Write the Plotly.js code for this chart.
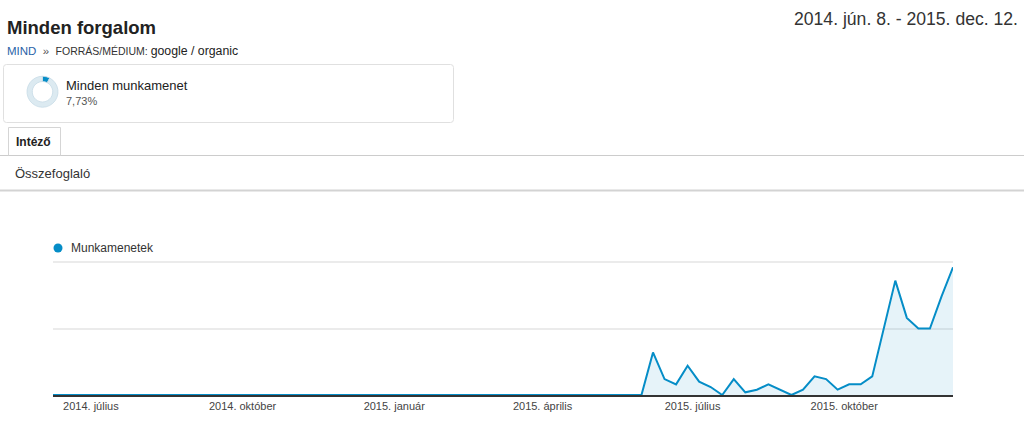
<!DOCTYPE html>
<html>
<head>
<meta charset="utf-8">
<script src="https://cdn.plot.ly/plotly-3.0.1.min.js"></script>
<style>
html,body{margin:0;padding:0;background:#fff;}
#chart{width:1024px;height:436px;}
</style>
</head>
<body>
<div id="chart"></div>
<script>
// ---- data ----
var weeks = [
 '2014-06-08','2014-06-15','2014-06-22','2014-06-29','2014-07-06','2014-07-13','2014-07-20','2014-07-27',
 '2014-08-03','2014-08-10','2014-08-17','2014-08-24','2014-08-31','2014-09-07','2014-09-14','2014-09-21',
 '2014-09-28','2014-10-05','2014-10-12','2014-10-19','2014-10-26','2014-11-02','2014-11-09','2014-11-16',
 '2014-11-23','2014-11-30','2014-12-07','2014-12-14','2014-12-21','2014-12-28','2015-01-04','2015-01-11',
 '2015-01-18','2015-01-25','2015-02-01','2015-02-08','2015-02-15','2015-02-22','2015-03-01','2015-03-08',
 '2015-03-15','2015-03-22','2015-03-29','2015-04-05','2015-04-12','2015-04-19','2015-04-26','2015-05-03',
 '2015-05-10','2015-05-17','2015-05-24','2015-05-31','2015-06-07','2015-06-14','2015-06-21','2015-06-28',
 '2015-07-05','2015-07-12','2015-07-19','2015-07-26','2015-08-02','2015-08-09','2015-08-16','2015-08-23',
 '2015-08-30','2015-09-06','2015-09-13','2015-09-20','2015-09-27','2015-10-04','2015-10-11','2015-10-18',
 '2015-10-25','2015-11-01','2015-11-08','2015-11-15','2015-11-22','2015-11-29','2015-12-06'
];
var sessions = [
 0,0,0,0,0,0,0,0,
 0,0,0,0,0,0,0,0,
 0,0,0,0,0,0,0,0,
 0,0,0,0,0,0,0,0,
 0,0,0,0,0,0,0,0,
 0,0,0,0,0,0,0,0,
 0,0,0,0,16,6,4,11,
 5,3,0,6,1,2,4,2,
 0,2,7,6,2,4,4,7,
 25,43,29,25,25,37,48
];
var tickDates = ['2014-07-01','2014-10-01','2015-01-01','2015-04-01','2015-07-01','2015-10-01'];
var tickLabels = ['2014. július','2014. október','2015. január','2015. április','2015. július','2015. október'];
var yGrid = [0, 25, 50];
var segmentLabels = ['Minden munkamenet', 'Egyéb'];
var segmentShare = [7.73, 92.27];

// ---- layout helpers (pixel -> paper) ----
var W = 1024, H = 436;
function px(x){ return x / W; }
function py(y){ return 1 - y / H; }
var FONT = 'Liberation Sans, Arial, sans-serif';
var BLUE = '#058dc7';

function roundRect(x0, y0, x1, y1, r){
  return 'M' + px(x0 + r) + ',' + py(y0) +
    ' L' + px(x1 - r) + ',' + py(y0) +
    ' Q' + px(x1) + ',' + py(y0) + ' ' + px(x1) + ',' + py(y0 + r) +
    ' L' + px(x1) + ',' + py(y1 - r) +
    ' Q' + px(x1) + ',' + py(y1) + ' ' + px(x1 - r) + ',' + py(y1) +
    ' L' + px(x0 + r) + ',' + py(y1) +
    ' Q' + px(x0) + ',' + py(y1) + ' ' + px(x0) + ',' + py(y1 - r) +
    ' L' + px(x0) + ',' + py(y0 + r) +
    ' Q' + px(x0) + ',' + py(y0) + ' ' + px(x0 + r) + ',' + py(y0) + ' Z';
}

var traces = [
  {
    type: 'scatter',
    mode: 'lines',
    x: weeks,
    y: sessions,
    name: 'Munkamenetek',
    line: {color: BLUE, width: 2},
    fill: 'tozeroy',
    fillcolor: 'rgba(5,141,199,0.10)',
    xaxis: 'x', yaxis: 'y',
    hoverinfo: 'x+y'
  },
  {
    type: 'pie',
    labels: segmentLabels,
    values: segmentShare,
    hole: 0.66,
    sort: false,
    direction: 'clockwise',
    rotation: 0,
    textinfo: 'none',
    hoverinfo: 'none',
    marker: {colors: [BLUE, '#dceaf1'], line: {width: 0.8, color: '#c6dbe6'}},
    domain: {x: [px(27), px(58)], y: [py(107.5), py(76)]},
    showlegend: false
  }
];

// y axis: 0 at pixel 395, 25 per 66.5 px; small headroom so the 50 gridline is drawn
var Y0PX = 395, PXPER = 66.5 / 25, YTOP = 50.6;

var layout = {
  width: W, height: H,
  margin: {l: 0, r: 0, t: 0, b: 0, pad: 0},
  paper_bgcolor: '#ffffff',
  plot_bgcolor: 'rgba(0,0,0,0)',
  showlegend: false,
  font: {family: FONT, color: '#333'},
  xaxis: {
    type: 'date',
    domain: [px(53), px(953)],
    range: [weeks[0], weeks[weeks.length - 1]],
    tickmode: 'array',
    tickvals: tickDates,
    ticktext: tickLabels,
    ticks: '',
    showgrid: false,
    zeroline: false,
    showline: true,
    linecolor: '#333333',
    linewidth: 1.5,
    layer: 'below traces',
    tickfont: {family: FONT, size: 11, color: '#444'},
    fixedrange: true
  },
  yaxis: {
    domain: [(H - Y0PX) / H, (H - (Y0PX - YTOP * PXPER)) / H],
    range: [0, YTOP],
    tickmode: 'array',
    tickvals: yGrid,
    showticklabels: false,
    ticks: '',
    showgrid: true,
    gridcolor: '#ebebeb',
    gridwidth: 2,
    zeroline: false,
    showline: false,
    layer: 'below traces',
    fixedrange: true
  },
  shapes: [
    {type: 'path', xref: 'paper', yref: 'paper', path: roundRect(3.5, 64.5, 453.5, 122.5, 3),
     line: {color: '#e0e0e0', width: 1}, fillcolor: 'rgba(0,0,0,0)'},
    {type: 'line', xref: 'paper', yref: 'paper', x0: 0, x1: 1, y0: py(155.5), y1: py(155.5),
     line: {color: '#cccccc', width: 1}},
    {type: 'path', xref: 'paper', yref: 'paper',
     path: 'M' + px(8.5) + ',' + py(155.5) + ' L' + px(8.5) + ',' + py(127.5) + ' L' + px(60.5) + ',' + py(127.5) + ' L' + px(60.5) + ',' + py(155.5),
     line: {color: '#d5d5d5', width: 1}, fillcolor: 'rgba(0,0,0,0)'},
    {type: 'line', xref: 'paper', yref: 'paper', x0: 0, x1: 1, y0: py(190.5), y1: py(190.5),
     line: {color: '#d3d3d3', width: 2}},
    {type: 'circle', xref: 'paper', yref: 'paper', x0: px(53.5), x1: px(62.5), y0: py(252.5), y1: py(243.5),
     fillcolor: BLUE, line: {width: 0}}
  ],
  annotations: [
    {xref: 'paper', yref: 'paper', x: px(5), y: py(27), xanchor: 'left', yanchor: 'middle', showarrow: false,
     text: '<b>Minden forgalom</b>', font: {family: FONT, size: 18.5, color: '#222'}},
    {xref: 'paper', yref: 'paper', x: px(5), y: py(51), xanchor: 'left', yanchor: 'middle', showarrow: false,
     text: '<span style="color:#2a63a8">MIND</span>  <span style="color:#555">»</span>  <span style="font-size:10.5px">FORRÁS/MÉDIUM: </span><span style="font-size:12.3px;color:#222">google / organic</span>',
     font: {family: FONT, size: 11.5, color: '#333'}},
    {xref: 'paper', yref: 'paper', x: px(1020), y: py(19), xanchor: 'right', yanchor: 'middle', showarrow: false,
     text: '2014. jún. 8. - 2015. dec. 12.', font: {family: FONT, size: 17.6, color: '#333'}},
    {xref: 'paper', yref: 'paper', x: px(64), y: py(85), xanchor: 'left', yanchor: 'middle', showarrow: false,
     text: 'Minden munkamenet', font: {family: FONT, size: 13, color: '#222'}},
    {xref: 'paper', yref: 'paper', x: px(64), y: py(101), xanchor: 'left', yanchor: 'middle', showarrow: false,
     text: '7,73%', font: {family: FONT, size: 11, color: '#555'}},
    {xref: 'paper', yref: 'paper', x: px(14), y: py(142), xanchor: 'left', yanchor: 'middle', showarrow: false,
     text: '<b>Intéző</b>', font: {family: FONT, size: 12, color: '#222'}},
    {xref: 'paper', yref: 'paper', x: px(13), y: py(174), xanchor: 'left', yanchor: 'middle', showarrow: false,
     text: 'Összefoglaló', font: {family: FONT, size: 13, color: '#333'}},
    {xref: 'paper', yref: 'paper', x: px(69), y: py(248), xanchor: 'left', yanchor: 'middle', showarrow: false,
     text: 'Munkamenetek', font: {family: FONT, size: 12, color: '#333'}}
  ]
};

Plotly.newPlot('chart', traces, layout, {displayModeBar: false, staticPlot: true});
</script>
</body>
</html>
